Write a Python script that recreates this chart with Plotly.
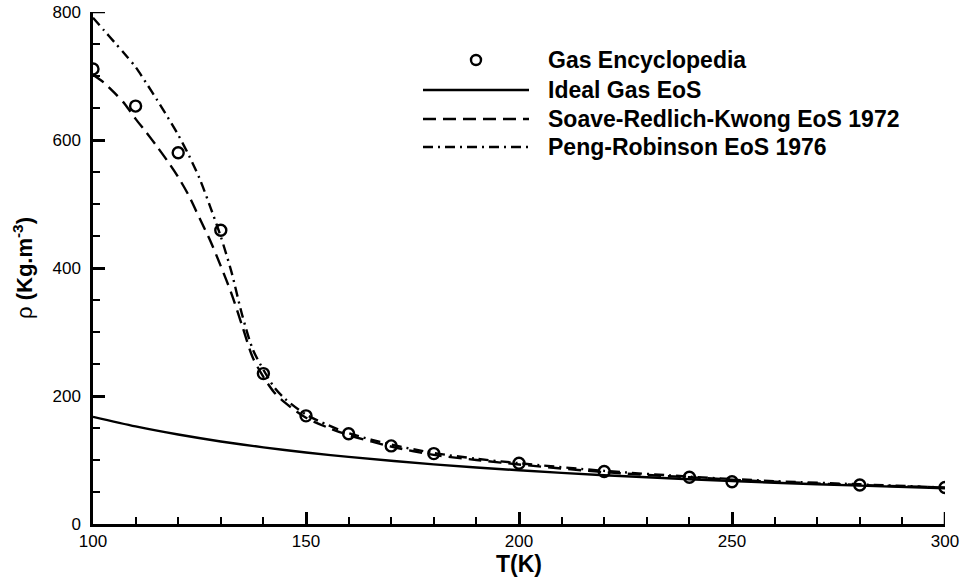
import plotly.graph_objects as go

# Gas Encyclopedia data points
T_exp = [100, 110, 120, 130, 140, 150, 160, 170, 180, 200, 220, 240, 250, 280, 300]
rho_exp = [711, 653, 580, 459, 235, 169, 141, 122, 110, 95, 82, 73, 66, 61, 57]

# Ideal gas EoS
T_ideal = [100, 110, 120, 130, 140, 150, 160, 180, 200, 220, 240, 260, 280, 300]
rho_ideal = [167.5, 152.5, 139.8, 129.0, 119.8, 111.8, 104.8, 93.2, 83.9, 76.2, 69.9, 64.5, 59.9, 55.9]

# Soave-Redlich-Kwong / Peng-Robinson curves
T_eos = [100, 102.5, 105, 107.5, 110, 112.5, 115, 117.5, 120, 122.5, 125, 127.5, 130, 132.5, 135, 137.5,
         140, 142.5, 145, 150, 155, 160, 170, 180, 190, 200, 220, 240, 260, 280, 300]
rho_srk = [702, 690, 674, 656, 633, 612, 590, 567, 542, 513, 478, 443, 403, 360, 310, 260,
           230, 206, 190, 166, 151, 139, 121, 108, 100, 93, 81, 73, 66, 61, 57]
rho_pr = [791, 772, 753, 734, 714, 689, 663, 636, 608, 576, 540, 496, 449, 394, 327, 273,
          241, 214, 196, 171, 155, 142, 124, 111, 102, 95, 83, 74, 67, 62, 57]

legend_names = ["Gas Encyclopedia", "Ideal Gas EoS", "Soave-Redlich-Kwong EoS 1972", "Peng-Robinson EoS 1976"]

DASH = "13px,7px"
DASHDOT = "10px,5px,2px,5px"
FONT = "Liberation Sans, Arial, sans-serif"

fig = go.Figure()
fig.add_trace(go.Scatter(x=T_ideal, y=rho_ideal, mode="lines",
                         line=dict(color="black", width=2.4, shape="spline", smoothing=0.8), showlegend=False))
fig.add_trace(go.Scatter(x=T_eos, y=rho_srk, mode="lines",
                         line=dict(color="black", width=2.4, dash=DASH, shape="spline", smoothing=0.8), showlegend=False))
fig.add_trace(go.Scatter(x=T_eos, y=rho_pr, mode="lines",
                         line=dict(color="black", width=2.4, dash=DASHDOT, shape="spline", smoothing=0.8), showlegend=False))
fig.add_trace(go.Scatter(x=T_exp, y=rho_exp, mode="markers",
                         marker=dict(symbol="circle-open", size=11, color="black", line=dict(width=2.4, color="black")),
                         showlegend=False))

# Manual legend (paper coordinates)
W, H = 960, 581
ml, mr, mt, mb = 93, 15, 12, 57
pw, ph = W - ml - mr, H - mt - mb


def px2paper(x, y):
    return (x - ml) / pw, (H - mb - y) / ph


rows_y = [60, 90, 119, 147]
line_x0, line_x1, text_x = 423, 529, 546
styles = [None, "solid", DASH, DASHDOT]
for i, name in enumerate(legend_names):
    yy = rows_y[i]
    if i == 0:
        cx, cy = px2paper((line_x0 + line_x1) / 2, yy)
        r = 5
        fig.add_shape(type="circle", xref="paper", yref="paper",
                      x0=cx - r / pw, x1=cx + r / pw, y0=cy - r / ph, y1=cy + r / ph,
                      line=dict(color="black", width=2.4))
    else:
        x0, yp = px2paper(line_x0, yy)
        x1, _ = px2paper(line_x1, yy)
        fig.add_shape(type="line", xref="paper", yref="paper", x0=x0, x1=x1, y0=yp, y1=yp,
                      line=dict(color="black", width=2.4, dash=styles[i]))
    tx, ty = px2paper(text_x, yy)
    fig.add_annotation(xref="paper", yref="paper", x=tx, y=ty, xanchor="left", yanchor="middle",
                       text="<b>" + name + "</b>", showarrow=False,
                       font=dict(family=FONT, size=23, color="black"))

# end ticks (Plotly hides ticks at the axis ends)
x_max, y_max = 300, 800
fig.add_shape(type="line", xref="paper", yref="y", x0=0, x1=12 / pw, y0=y_max, y1=y_max,
              line=dict(color="black", width=2.5))
fig.add_shape(type="line", xref="x", yref="paper", x0=x_max, x1=x_max, y0=0, y1=12 / ph,
              line=dict(color="black", width=2.5))

axis_common = dict(showline=True, linecolor="black", linewidth=2.5, ticks="inside", ticklen=12, tickwidth=2.5,
                   tickcolor="black", showgrid=False, zeroline=False, mirror=False,
                   tickfont=dict(family=FONT, size=17, color="black"))

fig.update_xaxes(range=[100, 300], tickmode="linear", tick0=100, dtick=50,
                 minor=dict(dtick=10, ticks="inside", ticklen=7, tickwidth=1.5, tickcolor="black", showgrid=False),
                 title=dict(text="<b>T(K)</b>", font=dict(family=FONT, size=23, color="black"), standoff=6),
                 **axis_common)
fig.update_yaxes(range=[0, 800], tickmode="linear", tick0=0, dtick=200,
                 minor=dict(dtick=50, ticks="inside", ticklen=7, tickwidth=1.5, tickcolor="black", showgrid=False),
                 ticklabelstandoff=6,
                 title=dict(text="ρ <b>(Kg.m<sup>-3</sup>)</b>", font=dict(family=FONT, size=22, color="black"),
                            standoff=14),
                 **axis_common)

fig.update_layout(width=W, height=H, margin=dict(l=ml, r=mr, t=mt, b=mb, autoexpand=False),
                  plot_bgcolor="white", paper_bgcolor="white", showlegend=False)

fig.write_html("out.html")
